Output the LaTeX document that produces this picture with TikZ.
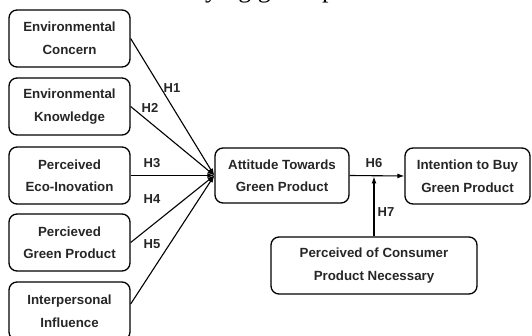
\documentclass[tikz,border=0pt]{standalone}
\usepackage{fontspec}
\setmainfont{Liberation Sans}
\newfontfamily\capfont{Liberation Serif}
\usetikzlibrary{arrows.meta,calc}
\begin{document}
\begin{tikzpicture}[x=1pt,y=-1pt,
 box/.style={draw, line width=1.3pt, rounded corners=8pt, align=center, inner sep=0pt, font=\fontsize{13.3}{22.5}\selectfont\bfseries, text=black!85},
 conn/.style={line width=1.1pt, -{Latex[length=7pt,width=5pt]}},
 hlab/.style={font=\fontsize{13}{15}\selectfont\bfseries, inner sep=0pt, text=black!85}]
\useasboundingbox (0,0) rectangle (532,336);
\begin{scope}
\clip (0,0) rectangle (532,336);
\node[font=\capfont\fontsize{26}{30}\selectfont, anchor=base west, inner sep=0pt] (cap) at (179,-2) {buying green product};
\node[box, minimum width=121pt, minimum height=57pt] (b1) at (69.5,38.5) {Environmental\\Concern};
\node[box, minimum width=121pt, minimum height=57pt] (b2) at (69.5,106.5) {Environmental\\Knowledge};
\node[box, minimum width=121pt, minimum height=57pt] (b3) at (69.5,175.5) {Perceived\\Eco-Inovation};
\node[box, minimum width=121pt, minimum height=57pt] (b4) at (69.5,242.5) {Percieved\\Green Product};
\node[box, minimum width=121pt, minimum height=58pt] (b5) at (69.5,311) {Interpersonal\\Influence};
\node[box, minimum width=134pt, minimum height=55pt] (att) at (282,175.5) {Attitude Towards\\Green Product};
\node[box, minimum width=125pt, minimum height=56pt] (int) at (467.5,176) {Intention to Buy\\Green Product};
\node[box, minimum width=206pt, minimum height=57pt] (pc) at (374,265.5) {Perceived of Consumer\\Product Necessary};
\draw[conn] (b1.east) -- (att.west);
\draw[conn] (b2.east) -- (att.west);
\draw[conn] (b3.east) -- (att.west);
\draw[conn] (b4.east) -- (att.west);
\draw[conn] ([yshift=7pt]b5.east) -- (att.west);
\draw[conn] (att.east) -- (int.west);
\draw[conn, shorten >=1pt] (pc.north) -- (pc.north |- att.east);
\node[hlab] (h1) at (172,88) {H1};
\node[hlab] (h2) at (150,108) {H2};
\node[hlab] (h3) at (152,163) {H3};
\node[hlab] (h4) at (152,199) {H4};
\node[hlab] (h5) at (152,244) {H5};
\node[hlab] (h6) at (374,163) {H6};
\node[hlab] (h7) at (386,212) {H7};
\end{scope}
\end{tikzpicture}
\end{document}
